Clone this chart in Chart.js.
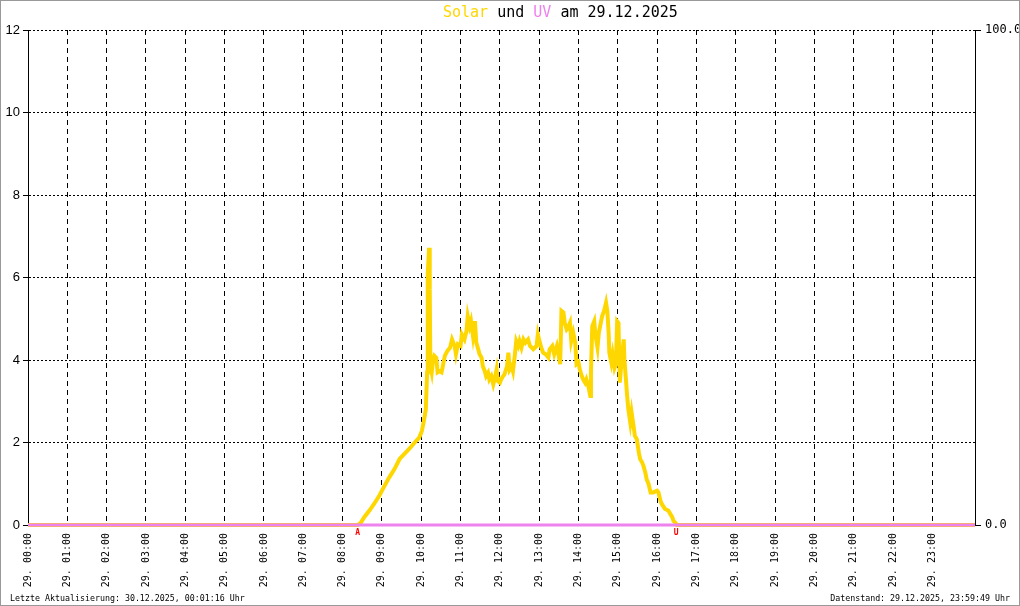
<!DOCTYPE html>
<html>
<head>
<meta charset="utf-8">
<script src="https://cdn.jsdelivr.net/npm/chart.js@4.4.1/dist/chart.umd.min.js"></script>
<style>
html, body { margin: 0; padding: 0; background: #fff; }
#wrap { position: relative; width: 1020px; height: 606px; overflow: hidden; background: #fff; }
#chart { position: absolute; left: 0; top: 0; }
#frame { position: absolute; left: 0; top: 0; width: 1020px; height: 606px; box-sizing: border-box; border: 1px solid #999; pointer-events: none; }
#title { position: absolute; left: 443px; top: 5px; font: 15px/15px "DejaVu Sans Mono", monospace; color: #000; white-space: nowrap; }
#title .solar { color: #ffd700; }
#title .uv { color: #ee82ee; }
.foot { position: absolute; top: 594px; font: 8.3px/9px "DejaVu Sans Mono", monospace; color: #000; white-space: nowrap; }
#footLeft { left: 10px; }
#footRight { right: 10px; }
</style>
</head>
<body>
<div id="wrap">
    <canvas id="chart" width="1020" height="606"></canvas>
    <div id="title"><span class="solar">Solar</span> und <span class="uv">UV</span> am 29.12.2025</div>
    <div class="foot" id="footLeft">Letzte Aktualisierung: 30.12.2025, 00:01:16 Uhr</div>
    <div class="foot" id="footRight">Datenstand: 29.12.2025, 23:59:49 Uhr</div>
    <div id="frame"></div>
</div>
<script>
// Zeit in Minuten seit Mitternacht (29.12.2025)
const solarMinutes = [0, 503, 508, 513, 521, 528, 536, 544, 551, 559, 567, 574, 582, 590, 597, 601, 604, 607, 609, 610, 612, 613, 614, 616, 618, 620, 623, 625, 628, 631, 633, 636, 640, 644, 647, 651, 653, 656, 660, 662, 666, 669, 671, 674, 676, 679, 682, 684, 687, 689, 692, 694, 697, 699, 702, 704, 707, 710, 712, 715, 717, 720, 722, 725, 727, 731, 733, 735, 738, 740, 743, 745, 748, 750, 753, 756, 759, 763, 766, 771, 776, 778, 781, 784, 786, 790, 794, 796, 800, 803, 807, 809, 812, 814, 817, 819, 822, 824, 827, 829, 832, 835, 837, 840, 842, 845, 847, 850, 852, 855, 858, 859, 861, 864, 866, 869, 871, 874, 876, 879, 882, 884, 886, 887, 890, 892, 895, 897, 899, 901, 903, 906, 909, 910, 912, 914, 916, 919, 921, 924, 926, 929, 932, 934, 937, 939, 942, 944, 947, 950, 954, 960, 962, 965, 967, 972, 977, 980, 983, 985, 988, 990, 1445];
const solarValues = [0, 0, 0.06, 0.19, 0.35, 0.51, 0.71, 0.95, 1.15, 1.35, 1.6, 1.72, 1.85, 2.0, 2.12, 2.28, 2.52, 2.8, 3.7, 6.1, 6.72, 5.7, 3.85, 3.7, 4.0, 4.1, 4.05, 3.7, 3.73, 3.7, 3.85, 4.1, 4.22, 4.3, 4.5, 4.34, 4.14, 4.38, 4.34, 4.62, 4.5, 4.7, 5.06, 4.82, 4.94, 4.58, 4.94, 4.42, 4.26, 4.14, 4.06, 3.85, 3.73, 3.61, 3.69, 3.53, 3.61, 3.41, 3.53, 3.77, 3.49, 3.45, 3.53, 3.61, 3.65, 3.85, 4.18, 3.77, 3.85, 3.73, 4.14, 4.46, 4.34, 4.46, 4.3, 4.5, 4.42, 4.5, 4.34, 4.26, 4.34, 4.62, 4.42, 4.26, 4.18, 4.14, 4.06, 4.26, 4.34, 4.14, 4.34, 4.18, 3.9, 5.19, 5.15, 4.9, 4.74, 4.78, 4.9, 4.46, 4.66, 4.42, 3.9, 3.94, 3.77, 3.61, 3.53, 3.45, 3.53, 3.37, 3.13, 3.69, 4.82, 4.94, 4.58, 4.3, 4.66, 4.9, 5.06, 5.19, 5.39, 5.19, 4.66, 4.18, 3.94, 4.14, 3.81, 3.9, 4.94, 4.9, 3.45, 4.02, 4.5, 4.02, 3.61, 3.17, 2.81, 2.48, 2.73, 2.4, 2.16, 2.08, 1.76, 1.6, 1.52, 1.44, 1.27, 1.11, 0.99, 0.79, 0.79, 0.83, 0.79, 0.59, 0.51, 0.39, 0.35, 0.27, 0.19, 0.1, 0.05, 0, 0];

const uvMinutes = [0, 1445];
const uvValues = [0, 0];

// Sonnenaufgang (A) und Sonnenuntergang (U)
const sunMinutes = [503, 989];
const sunLabels = ['A', 'U'];

const hourTicks = ['00', '01', '02', '03', '04', '05', '06', '07', '08', '09', '10', '11',
    '12', '13', '14', '15', '16', '17', '18', '19', '20', '21', '22', '23'];
const leftTicks = [0, 2, 4, 6, 8, 10, 12];
const rightTicks = [0, 100];

// kleine rote Buchstaben fuer Auf- und Untergang
const sunMarkPlugin = {
    id: 'sunMarks',
    afterDatasetsDraw(chart) {
        const ctx = chart.ctx;
        const x = chart.scales.x;
        const y = chart.scales.y;
        ctx.save();
        ctx.fillStyle = '#ff0000';
        ctx.font = 'bold 8px "DejaVu Sans Mono"';
        ctx.textAlign = 'center';
        ctx.textBaseline = 'top';
        for (let i = 0; i < sunMinutes.length; i++) {
            ctx.fillText(sunLabels[i], x.getPixelForValue(sunMinutes[i]), y.bottom + 4);
        }
        ctx.restore();
    }
};

const ctx = document.getElementById('chart').getContext('2d');
new Chart(ctx, {
    type: 'line',
    data: {
        datasets: [{
            label: 'UV',
            data: uvMinutes.map((m, i) => ({ x: m, y: uvValues[i] })),
            yAxisID: 'y2',
            borderColor: '#ee82ee',
            borderWidth: 3,
            pointRadius: 0,
            clip: false,
            order: 0
        }, {
            label: 'Solar',
            data: solarMinutes.map((m, i) => ({ x: m, y: solarValues[i] })),
            yAxisID: 'y',
            borderColor: '#ffd700',
            borderWidth: 4,
            pointRadius: 0,
            tension: 0,
            clip: { left: 0, top: 0, right: 0, bottom: 3 },
            order: 1
        }]
    },
    options: {
        responsive: false,
        animation: false,
        devicePixelRatio: 1,
        layout: { padding: { top: 30, left: 0, right: 0, bottom: 0 } },
        plugins: { legend: { display: false }, tooltip: { enabled: false } },
        scales: {
            x: {
                type: 'linear',
                min: 0,
                max: 1445,
                afterFit: s => { s.height = 81; },
                afterBuildTicks: s => { s.ticks = hourTicks.map((h, i) => ({ value: i * 60 })); },
                ticks: {
                    autoSkip: false,
                    maxRotation: 90,
                    minRotation: 90,
                    padding: 8,
                    color: '#000',
                    font: { family: 'DejaVu Sans Mono', size: 10 },
                    callback: v => '29. ' + hourTicks[v / 60] + ':00'
                },
                grid: { color: '#000', lineWidth: 1, drawTicks: false },
                border: { display: false, dash: [5, 4] }
            },
            y: {
                position: 'left',
                min: 0,
                max: 12,
                afterFit: s => { s.width = 28; },
                afterBuildTicks: s => { s.ticks = leftTicks.map(v => ({ value: v })); },
                ticks: {
                    padding: 3,
                    color: '#000',
                    font: { family: 'Liberation Sans', size: 13 }
                },
                grid: { color: '#000', lineWidth: 1, tickLength: 5, tickColor: '#000' },
                border: { display: true, color: '#000', width: 1, dash: [2, 2] }
            },
            y2: {
                position: 'right',
                min: 0,
                max: 100,
                afterFit: s => { s.width = 45; },
                afterBuildTicks: s => { s.ticks = rightTicks.map(v => ({ value: v })); },
                ticks: {
                    padding: 4,
                    color: '#000',
                    font: { family: 'DejaVu Sans Mono', size: 12 },
                    callback: v => v.toFixed(1)
                },
                grid: { drawOnChartArea: false, tickLength: 6, tickColor: '#000' },
                border: { display: true, color: '#000', width: 1 }
            }
        }
    },
    plugins: [sunMarkPlugin]
});
</script>
</body>
</html>
